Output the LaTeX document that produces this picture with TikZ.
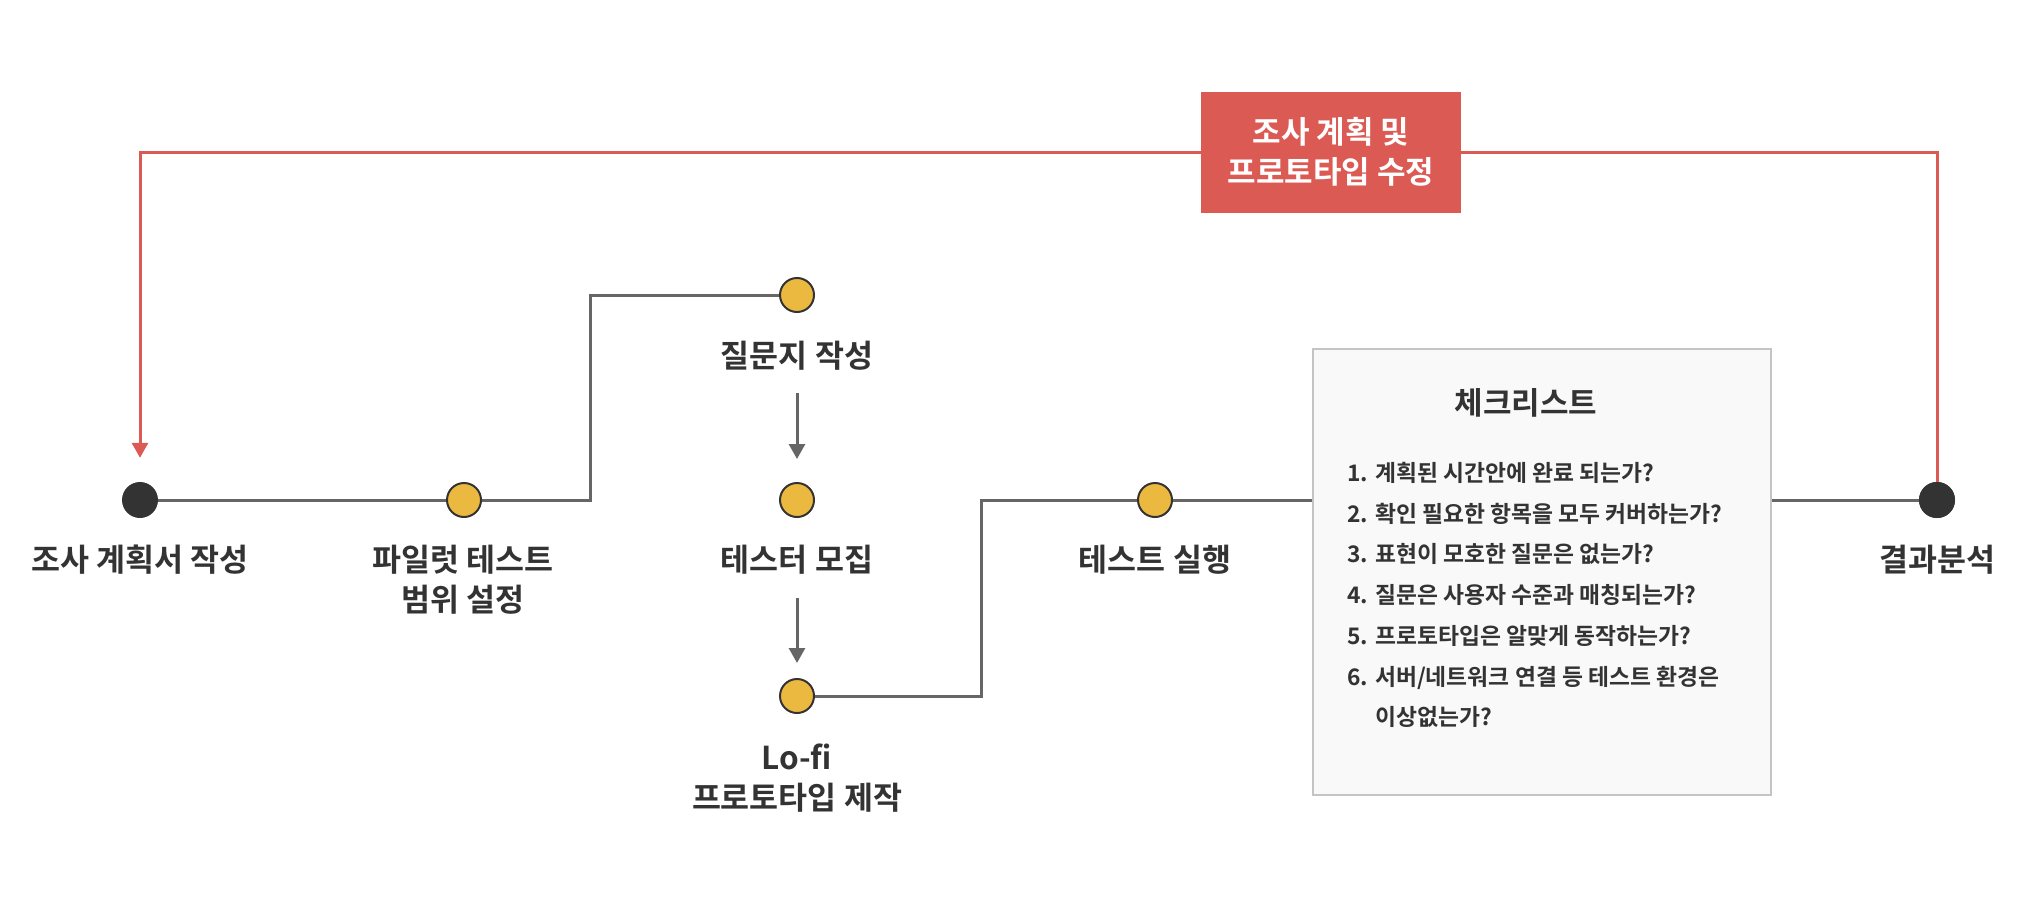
\documentclass[tikz,border=0pt]{standalone}
\usepackage{fontspec}
\setmainfont{Noto Sans CJK KR}[BoldFont={Noto Sans CJK KR Bold}]
\usetikzlibrary{arrows.meta}
\definecolor{cred}{HTML}{DC5A54}
\definecolor{cyel}{HTML}{ECB940}
\definecolor{cdark}{HTML}{333333}
\definecolor{cline}{HTML}{666666}
\definecolor{cboxfill}{HTML}{F9F9F9}
\definecolor{cboxdraw}{HTML}{C4C4C4}
\tikzset{
  bigdot/.style={circle,fill=cdark,minimum size=36pt,inner sep=0pt},
  ydot/.style={circle,fill=cyel,draw=cdark,line width=2pt,minimum size=34pt,inner sep=0pt},
  lbl/.style={text=cdark,font=\fontsize{31.5}{40}\selectfont\bfseries,align=center,inner sep=0pt},
  gline/.style={draw=cline,line width=3pt},
  garrow/.style={draw=cline,line width=3pt,-{Triangle[width=16pt,length=15pt]}},
  rline/.style={draw=cred,line width=3pt},
  redbox/.style={fill=cred,text=white,font=\fontsize{31}{40}\selectfont\bfseries,align=center,minimum width=260pt,minimum height=121pt,inner sep=0pt},
  chkbox/.style={fill=cboxfill,draw=cboxdraw,line width=2pt,minimum width=458pt,minimum height=446pt,inner sep=0pt},
  item/.style={text=cdark,font=\fontsize{22.8}{30}\selectfont\bfseries,anchor=base west,inner sep=0pt}
}
\begin{document}
\begin{tikzpicture}[x=1pt,y=-1pt]
\path[use as bounding box,fill=white] (0,0) rectangle (2040,918);
% dots
\node[bigdot] (ldot) at (140,500) {};
\node[bigdot] (rdot) at (1937,500) {};
\node[ydot] (pilot) at (464,500) {};
\node[ydot] (q1) at (797,295) {};
\node[ydot] (q2) at (797,500) {};
\node[ydot] (q3) at (797,696) {};
\node[ydot] (run) at (1155,500) {};
% checklist box
\node[chkbox] (box) at (1542,572) {};
% red box
\node[redbox] (rbox) at (1331,152) {조사 계획 및\\프로토타입 수정};
% labels
\node[lbl] (l1) at (140,560) {조사 계획서 작성};
\node[lbl] (l2) at (463,580) {파일럿 테스트\\범위 설정};
\node[lbl] (l3) at (797,356) {질문지 작성};
\node[lbl] (l4) at (797,560) {테스터 모집};
\node[lbl] (l5) at (797,778) {Lo-fi\\프로토타입 제작};
\node[lbl] (l6) at (1155,560) {테스트 실행};
\node[lbl] (l7) at (1937,560) {결과분석};
% checklist text
\node[text=cdark,font=\fontsize{31}{34}\selectfont\bfseries,inner sep=0pt] (ctitle) at (1526,403) {체크리스트};
\node[item] (n1) at (1347,481) {1.};
\node[item] (t1) at (1375,481) {계획된 시간안에 완료 되는가?};
\node[item] (n2) at (1347,522) {2.};
\node[item] (t2) at (1375,522) {확인 필요한 항목을 모두 커버하는가?};
\node[item] (n3) at (1347,562) {3.};
\node[item] (t3) at (1375,562) {표현이 모호한 질문은 없는가?};
\node[item] (n4) at (1347,603) {4.};
\node[item] (t4) at (1375,603) {질문은 사용자 수준과 매칭되는가?};
\node[item] (n5) at (1347,644) {5.};
\node[item] (t5) at (1375,644) {프로토타입은 알맞게 동작하는가?};
\node[item] (n6) at (1347,685) {6.};
\node[item] (t6) at (1375,685) {서버/네트워크 연결 등 테스트 환경은};
\node[item] (t7) at (1375,725) {이상없는가?};
% connector coordinates
\coordinate (c1) at (590,500);
\coordinate (c2) at (590,295);
\coordinate (c3) at (981,696);
\coordinate (c4) at (981,500);
\coordinate (a1s) at (797,393);
\coordinate (a1e) at (797,459);
\coordinate (a2s) at (797,598);
\coordinate (a2e) at (797,663);
% gray connectors
\draw[gline] (ldot) -- (pilot);
\draw[gline] (pilot) -- (c1) -- (c2) -- (q1);
\draw[gline] (q3) -- (c3) -- (c4) -- (run);
\draw[gline] (run) -- (run -| box.west);
\draw[gline] (box.east |- rdot) -- (rdot);
\draw[garrow] (a1s) -- (a1e);
\draw[garrow] (a2s) -- (a2e);
% red loop
\draw[rline] (rdot.center) |- (rbox.east);
\draw[rline,-{Triangle[width=16pt,length=15pt]},shorten >=24pt] (rbox.west) -| (ldot.north);
\node[bigdot] at (rdot) {};
\end{tikzpicture}
\end{document}
